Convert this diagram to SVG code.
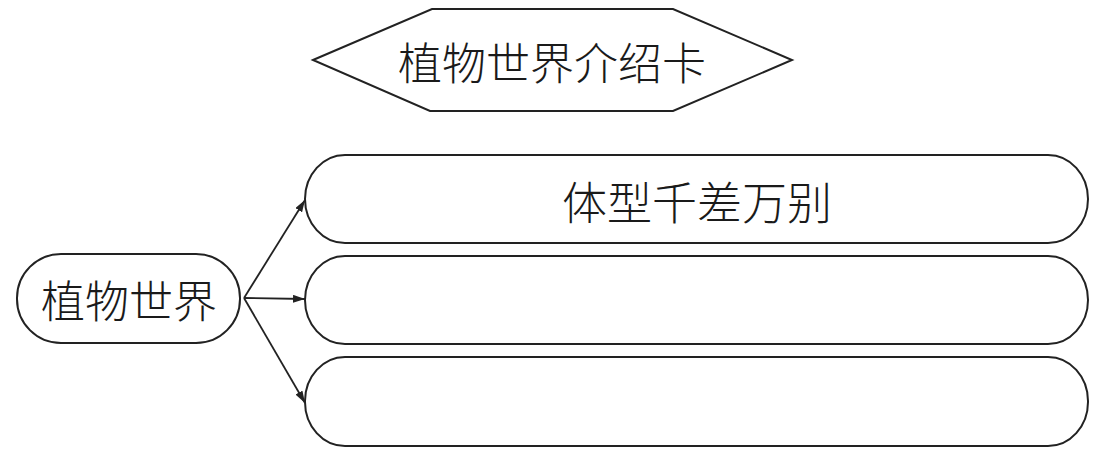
<svg xmlns="http://www.w3.org/2000/svg" width="1096" height="455" viewBox="0 0 1096 455">
<style>
.shape{fill:#fff;stroke:#222;stroke-width:2}
.lbl{font-family:"Noto Sans CJK SC","Noto Sans",sans-serif;font-weight:300;fill:#1a1a1a;text-anchor:middle;dominant-baseline:central}
.conn{stroke:#222;stroke-width:1.8;fill:none;marker-end:url(#arr)}
</style>
<defs>
<marker id="arr" viewBox="0 0 12 8" refX="12" refY="4" markerWidth="12" markerHeight="8" markerUnits="userSpaceOnUse" orient="auto">
<path d="M0,0 L12,4 L0,8 Z" fill="#222"/>
</marker>
</defs>
<rect width="1096" height="455" fill="#fff"/>
<g id="title">
<polygon class="shape" points="313,60 432,9 673,9 792,60 673,111 430,111"/>
<text class="lbl" x="552" y="61" font-size="44">植物世界介绍卡</text>
</g>
<g id="root">
<rect class="shape" x="17" y="254" width="223" height="89" rx="44" ry="44"/>
<text class="lbl" x="129" y="299" font-size="44">植物世界</text>
</g>
<g id="box1">
<rect class="shape" x="305" y="155" width="783" height="88" rx="40" ry="44"/>
<text class="lbl" x="697" y="200" font-size="45">体型千差万别</text>
</g>
<g id="box2">
<rect class="shape" x="305" y="256" width="783" height="88" rx="40" ry="44"/>
</g>
<g id="box3">
<rect class="shape" x="305" y="357" width="783" height="89" rx="40" ry="44"/>
</g>
<g id="connectors">
<line class="conn" x1="244" y1="298" x2="305" y2="200"/>
<line class="conn" x1="244" y1="298" x2="305" y2="299"/>
<line class="conn" x1="244" y1="298" x2="305" y2="403"/>
</g>
</svg>
